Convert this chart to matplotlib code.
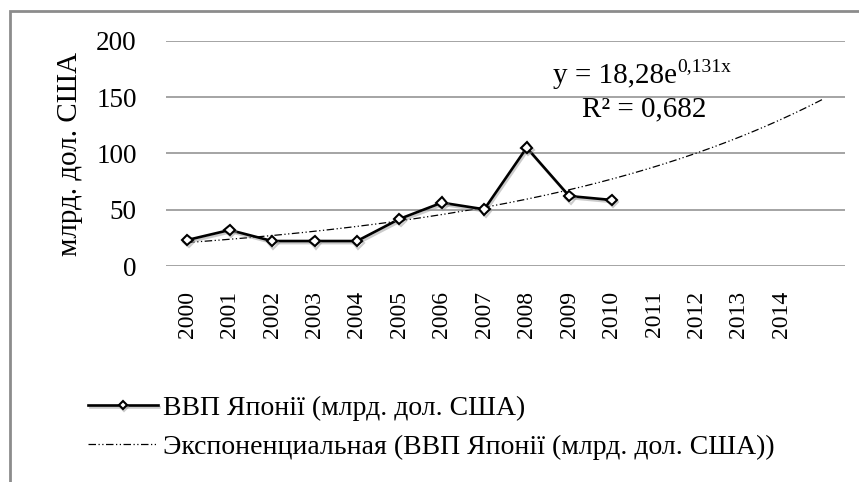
import numpy as np
import matplotlib
matplotlib.use("Agg")
import matplotlib.pyplot as plt
import matplotlib.patheffects as pe
from matplotlib.patches import Rectangle

plt.rcParams['font.family'] = ['Liberation Serif', 'DejaVu Serif']

# data
years = [str(y) for y in range(2000, 2015)]
gdp = [23.1, 32.0, 22.2, 22.2, 22.2, 41.8, 56.3, 50.4, 105.2, 62.2, 58.7]
series_name = 'ВВП Японії (млрд. дол. США)'
trend_name = 'Экспоненциальная (ВВП Японії (млрд. дол. США))'
# trendline as shown on the chart: y = 18,28 e^(0,131x), one period forecast
trend_a = 18.28
trend_b = 0.131
trend_forecast = 1

fig = plt.figure(figsize=(8.59, 4.82), dpi=100)
ax = fig.add_axes([166 / 859, 1 - 266 / 482, 679 / 859, 225 / 482])

# outer chart border
fig.patches.append(Rectangle((9.5 / 859, -0.05), 1.2, 1 - 11 / 482 + 0.05,
                             transform=fig.transFigure, fill=False,
                             edgecolor='#8c8c8c', lw=2))

x = np.arange(len(gdp))
ax.plot(x, gdp, color='black', lw=1.9, marker='D', ms=5.5,
        markerfacecolor='white', markeredgecolor='black', markeredgewidth=1.5,
        label=series_name, zorder=3,
        path_effects=[pe.SimpleLineShadow(offset=(1, -1.5), shadow_color='0.6', alpha=0.5),
                      pe.Normal()])

xt = np.linspace(0, len(years) - 1 + trend_forecast, 200)
yt = trend_a * np.exp(trend_b * (xt + 1))
ax.plot(xt, yt, color='black', lw=0.9, dashes=(6, 2, 1, 2, 1, 2),
        label=trend_name, zorder=2)

ax.set_xlim(-0.5, len(years) + trend_forecast - 0.5)
ax.set_ylim(0, 200)
ax.set_yticks([0, 50, 100, 150, 200])
ax.set_xticks(np.arange(len(years)))
ax.set_xticklabels(years, rotation=90)
ax.tick_params(axis='x', length=0, pad=18, labelsize=17)
ax.tick_params(axis='y', length=0, pad=21, labelsize=19.5)
for s in ax.spines.values():
    s.set_visible(False)
ax.grid(axis='y', color='#8c8c8c', lw=1.1)
ax.set_axisbelow(True)

ax.set_ylabel('млрд. дол. США', fontsize=21)
ax.yaxis.set_label_coords(-0.122, 0.5)

# trendline equation, superscript drawn as a separate smaller text
eq = ax.text((677 - 166) / 679, (266 - 76) / 225, 'y = 18,28e',
             transform=ax.transAxes, ha='right', va='center', fontsize=21)
ax.annotate('0,131x', xy=(1, 0.55), xycoords=eq, ha='left', va='bottom',
            fontsize=14)
ax.text((644 - 166) / 679, (266 - 109) / 225, 'R² = 0,682',
        transform=ax.transAxes, ha='center', va='center', fontsize=21)

fig.legend(loc='upper left', bbox_to_anchor=(77 / 859, 1 - 384 / 482),
           frameon=False, fontsize=20, handlelength=2.5, handletextpad=0.2,
           labelspacing=0.5, borderaxespad=0, markerscale=0.75)

fig.savefig('out.png', dpi=100)
